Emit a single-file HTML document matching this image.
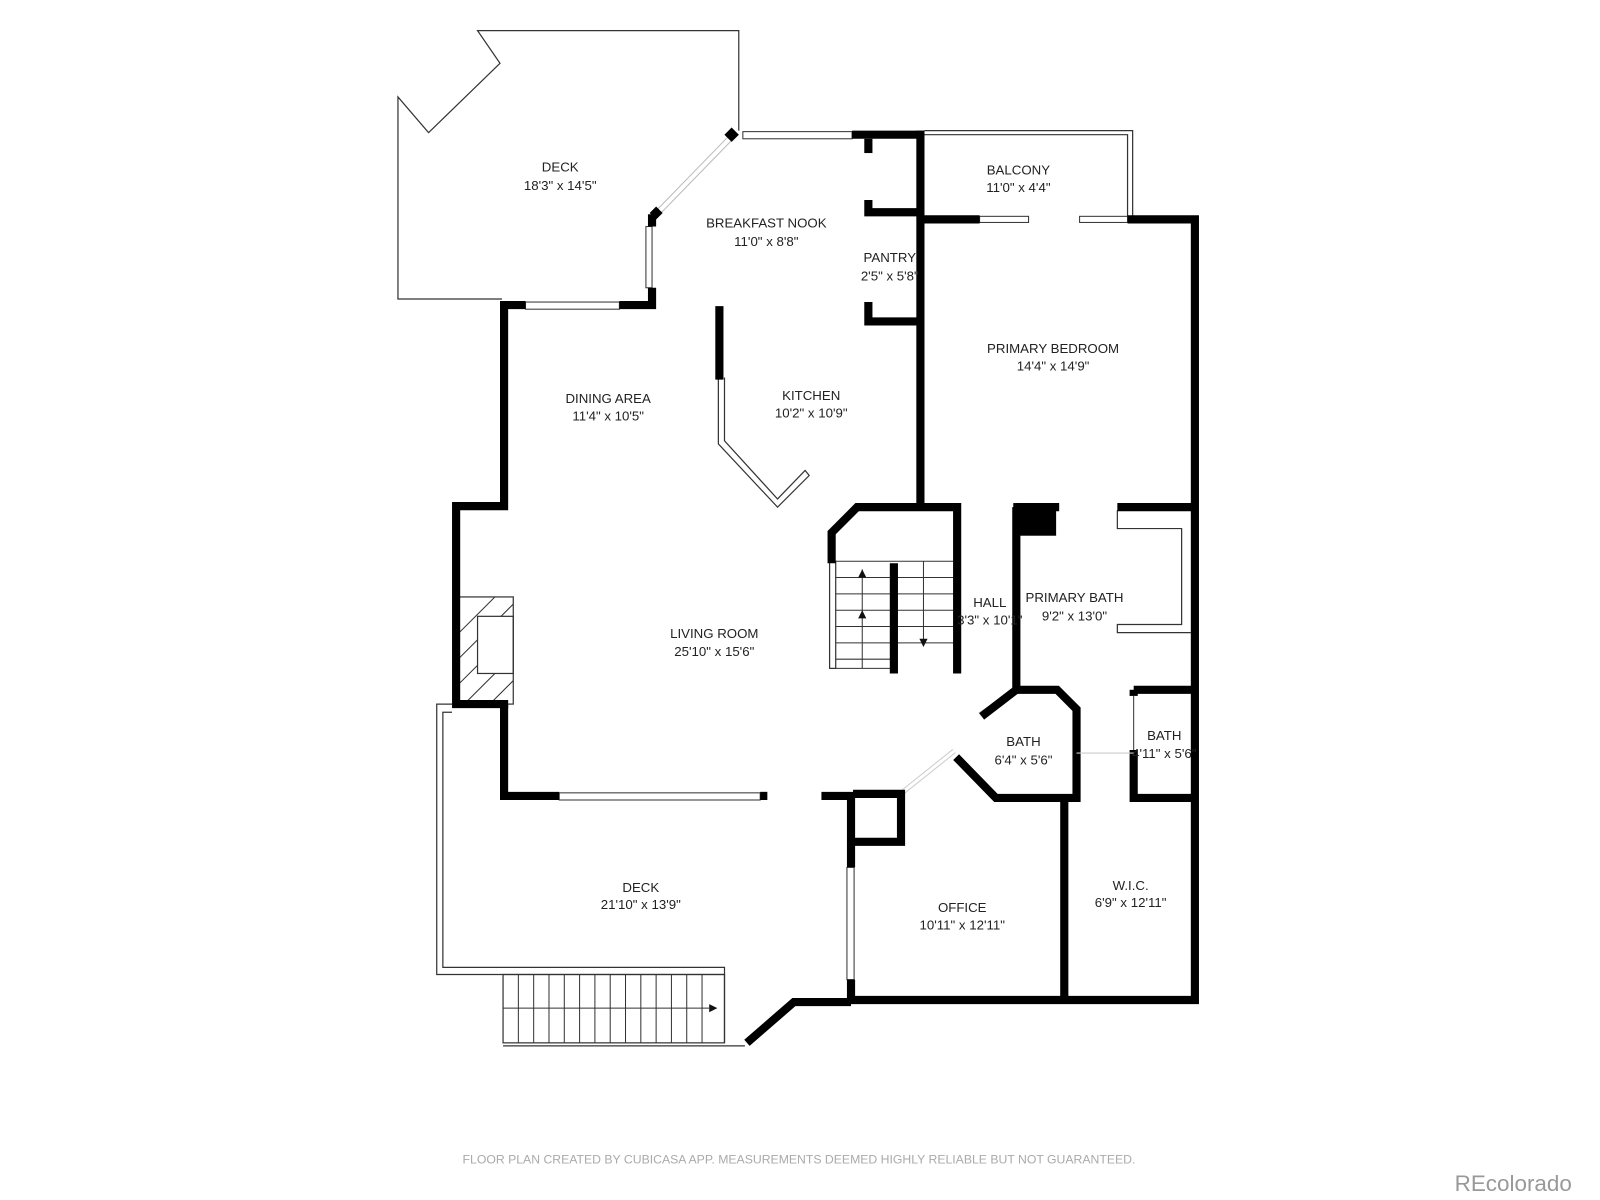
<!DOCTYPE html>
<html><head><meta charset="utf-8"><style>
html,body{margin:0;padding:0;background:#fff;}
svg{display:block;}
text{font-family:"Liberation Sans",sans-serif;fill:#222;font-size:13px;text-anchor:middle;}
</style></head><body>
<svg width="1600" height="1200" viewBox="0 0 1568 1176" preserveAspectRatio="none" xmlns="http://www.w3.org/2000/svg">
<rect width="1568" height="1176" fill="#fff"/>
<g fill="none" stroke="#333" stroke-width="1.2">
<polyline points="724,128 724,30 468,30 490,62 420,130 390,95 390,293 492,293"/>
<polyline points="906,128 1110,128 1110,215"/>
<polyline points="906,132 1105,132 1105,215"/>
<polyline points="443,690 428,690 428,955 493,955"/>
<polyline points="443,698 434,698 434,948 710,948 710,955 493,955"/>
<rect x="493" y="955" width="217" height="67"/>
<line x1="493" y1="1025" x2="730" y2="1025"/>
<line x1="710" y1="955" x2="710" y2="1022"/>
<polyline points="704,370 704,435 762,497 793,466 789,461 762,489 710,432 710,370"/>
<polyline points="1095,500 1095,518 1158,518 1158,612 1095,612 1095,620 1167,620"/>
<rect x="468" y="604" width="35" height="56"/>
<rect x="450" y="585" width="53" height="105"/>
<rect x="813" y="550" width="6" height="105"/>
</g>
<g stroke="#333" stroke-width="1">
<line x1="819" y1="566" x2="935" y2="566"/><line x1="819" y1="582" x2="935" y2="582"/>
<line x1="819" y1="598" x2="935" y2="598"/><line x1="819" y1="614" x2="935" y2="614"/>
<line x1="819" y1="630" x2="935" y2="630"/><line x1="819" y1="646" x2="875" y2="646"/>
<line x1="819" y1="655" x2="875" y2="655"/><line x1="819" y1="550" x2="935" y2="550"/>
<line x1="845" y1="558" x2="845" y2="655"/><line x1="905" y1="550" x2="905" y2="628"/>
<line x1="508" y1="955" x2="508" y2="1022"/><line x1="523" y1="955" x2="523" y2="1022"/>
<line x1="538" y1="955" x2="538" y2="1022"/><line x1="553" y1="955" x2="553" y2="1022"/>
<line x1="568" y1="955" x2="568" y2="1022"/><line x1="583" y1="955" x2="583" y2="1022"/>
<line x1="598" y1="955" x2="598" y2="1022"/><line x1="613" y1="955" x2="613" y2="1022"/>
<line x1="628" y1="955" x2="628" y2="1022"/><line x1="643" y1="955" x2="643" y2="1022"/>
<line x1="658" y1="955" x2="658" y2="1022"/><line x1="673" y1="955" x2="673" y2="1022"/>
<line x1="688" y1="955" x2="688" y2="1022"/>
<line x1="493" y1="988" x2="695" y2="988"/>
<g clip-path="url(#fp)"><line x1="450" y1="620" x2="490" y2="580"/><line x1="450" y1="645" x2="510" y2="585"/><line x1="450" y1="670" x2="510" y2="610"/><line x1="450" y1="695" x2="510" y2="635"/><line x1="460" y1="710" x2="510" y2="660"/><line x1="480" y1="715" x2="510" y2="685"/></g>
</g>
<clipPath id="fp"><path d="M450,585H503V604H468V660H503V690H450Z"/></clipPath>
<polygon points="845,558 841,566 849,566" fill="#111"/><polygon points="845,598 841,606 849,606" fill="#111"/>
<polygon points="905,634 901,626 909,626" fill="#111"/><polygon points="703,988 695,984 695,992" fill="#111"/>
<g fill="#fff" stroke="#333" stroke-width="1">
<rect x="728" y="129" width="107" height="7"/><rect x="515" y="296" width="92" height="7"/>
<rect x="633" y="222" width="6" height="60"/><rect x="548" y="777" width="197" height="7"/>
<rect x="830" y="850" width="7" height="110"/><rect x="960" y="212" width="48" height="6"/><rect x="1058" y="212" width="47" height="6"/>
</g>
<g stroke-linecap="butt">
<line x1="645" y1="208" x2="718" y2="133" stroke="#bbb" stroke-width="6"/>
<line x1="645" y1="208" x2="718" y2="133" stroke="#fff" stroke-width="4"/>
<line x1="885" y1="776" x2="935" y2="736" stroke="#ccc" stroke-width="5"/>
<line x1="885" y1="776" x2="935" y2="736" stroke="#fff" stroke-width="3"/>
<line x1="960" y1="700" x2="975" y2="690" stroke="#ccc" stroke-width="4"/>
</g>
<g fill="none" stroke="#000" stroke-width="8" stroke-linejoin="miter">
<polyline points="835,132 906,132"/>
<polyline points="902,128 902,495"/>
<polyline points="851,136 851,150"/><polyline points="851,196 851,208 902,208"/>
<polyline points="851,296 851,315 902,315"/>
<polyline points="639,210 639,222"/><polyline points="639,282 639,299 607,299"/>
<polyline points="515,299 494,299 494,496 447,496 447,690 498,690"/>
<polyline points="494,690 494,780 548,780"/>
<polyline points="705,300 705,372"/>
<polyline points="745,780 752,780"/><polyline points="805,780 834,780 834,850"/>
<polyline points="834,960 834,980 1171,980 1171,215 1105,215"/>
<polyline points="960,215 902,215"/>
<polyline points="836,778 883,778 883,825 836,825"/>
<polyline points="732,1022 778,982 834,982"/>
<polyline points="815,552 815,522 840,497 938,497 938,660"/>
<polyline points="876,552 876,660"/>
<polyline points="1095,497 1171,497"/>
<polyline points="996,497 1038,497"/>
<polyline points="996,497 996,676 1036,676 1055,695 1055,782 976,782 937,742"/>
<polyline points="962,702 996,676"/>
<polyline points="1043,782 1043,980"/>
<polyline points="1111,735 1111,782 1171,782"/><polyline points="1111,676 1171,676"/>
<polyline points="1111,676 1111,682"/>
</g>
<rect x="993" y="493" width="42" height="32" fill="#000"/>
<rect x="712" y="127" width="10" height="10" fill="#000" transform="rotate(45 717 132)"/>
<rect x="639" y="204" width="9" height="9" fill="#000" transform="rotate(45 643 208)"/>
<line x1="1111" y1="682" x2="1111" y2="735" stroke="#333"/>
<line x1="1055" y1="738" x2="1111" y2="738" stroke="#ccc"/>
<text x="549" y="168">DECK</text><text x="549" y="186">18'3" x 14'5"</text>
<text x="751" y="223">BREAKFAST NOOK</text><text x="751" y="241">11'0" x 8'8"</text>
<text x="872" y="257">PANTRY</text><text x="872" y="275">2'5" x 5'8"</text>
<text x="998" y="171">BALCONY</text><text x="998" y="188">11'0" x 4'4"</text>
<text x="1032" y="346">PRIMARY BEDROOM</text><text x="1032" y="363">14'4" x 14'9"</text>
<text x="596" y="395">DINING AREA</text><text x="596" y="412">11'4" x 10'5"</text>
<text x="795" y="392">KITCHEN</text><text x="795" y="409">10'2" x 10'9"</text>
<text x="700" y="625">LIVING ROOM</text><text x="700" y="643">25'10" x 15'6"</text>
<text x="970" y="595">HALL</text><text x="970" y="612">3'3" x 10'1"</text>
<text x="1053" y="590">PRIMARY BATH</text><text x="1053" y="608">9'2" x 13'0"</text>
<text x="1003" y="731">BATH</text><text x="1003" y="749">6'4" x 5'6"</text>
<text x="1141" y="725">BATH</text><text x="1141" y="743">4'11" x 5'6"</text>
<text x="628" y="874">DECK</text><text x="628" y="891">21'10" x 13'9"</text>
<text x="943" y="894">OFFICE</text><text x="943" y="911">10'11" x 12'11"</text>
<text x="1108" y="872">W.I.C.</text><text x="1108" y="889">6'9" x 12'11"</text>
<text x="783" y="1140" style="font-size:12px;fill:#aaa">FLOOR PLAN CREATED BY CUBICASA APP. MEASUREMENTS DEEMED HIGHLY RELIABLE BUT NOT GUARANTEED.</text>
<text x="1483" y="1167" style="font-size:22px;fill:#999">REcolorado</text>
</svg>
</body></html>
